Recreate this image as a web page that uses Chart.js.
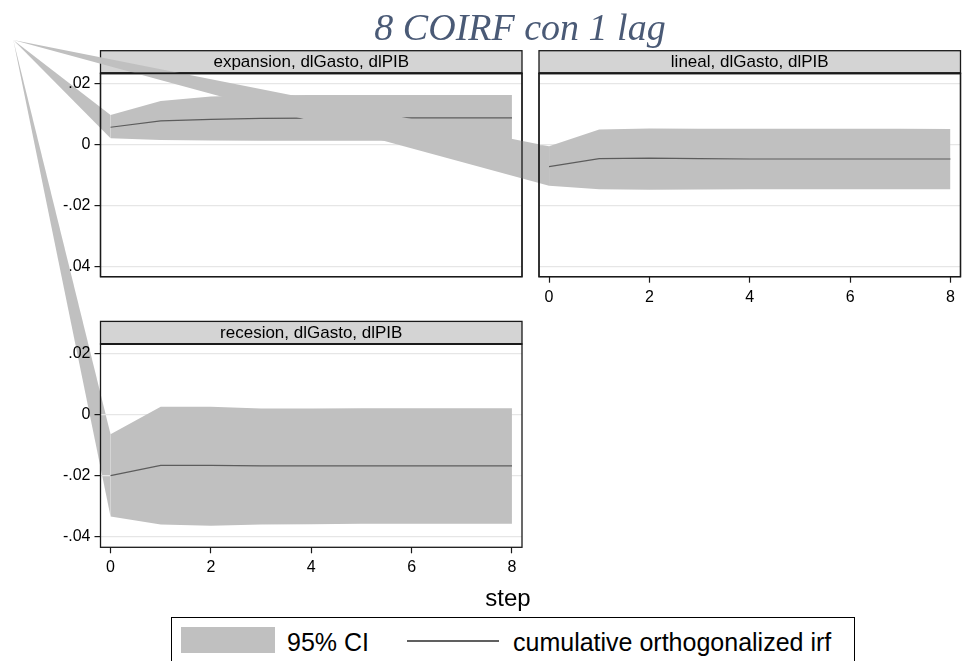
<!DOCTYPE html>
<html>
<head>
<meta charset="utf-8">
<script src="https://cdn.jsdelivr.net/npm/chart.js@4/dist/chart.umd.min.js"></script>
<style>
  html, body { margin: 0; padding: 0; background: #ffffff; }
  #wrap { position: relative; width: 962px; height: 661px; overflow: hidden; background: #fff; }
  #wrap canvas { position: absolute; left: 0; top: 0; }
  .txt { position: absolute; white-space: nowrap; }
  #title { left: 220px; width: 600px; top: 8px; text-align: center;
           font: italic 38px/38px "Liberation Serif", "Times New Roman", serif; color: #4a5a76; }
  #xtitle { left: 408px; width: 200px; top: 586px; text-align: center;
            font: 24px/24px "Liberation Sans", Arial, sans-serif; color: #000; }
  #legend { position: absolute; left: 171px; top: 617px; width: 684px; height: 60px;
            border: 1px solid #000; box-sizing: border-box; background: #fff; }
  #legend .sw { position: absolute; left: 9px; top: 9px; width: 94px; height: 26px; background: #c0c0c0; }
  #legend .ln { position: absolute; left: 235px; top: 22px; width: 92px; height: 2px; background: #606060; }
  #legend .lt { position: absolute; top: 12px; font: 25px/25px "Liberation Sans", Arial, sans-serif; color: #000; white-space: nowrap; }
</style>
</head>
<body>
<div id="wrap">
  <canvas id="cExp" width="962" height="661"></canvas>
  <canvas id="cLin" width="962" height="661"></canvas>
  <canvas id="cRec" width="962" height="661"></canvas>
  <div id="title" class="txt"></div>
  <div id="xtitle" class="txt"></div>
  <div id="legend">
    <div class="sw"></div>
    <div class="lt" id="lg1" style="left:115px"></div>
    <div class="ln"></div>
    <div class="lt" id="lg2" style="left:341px"></div>
  </div>
</div>
<script>
// ---------------- data ----------------
const chartTitle = '8 COIRF con 1 lag';
const xAxisTitle = 'step';
const legendLabels = ['95% CI', 'cumulative orthogonalized irf'];
const panelTitles = ['expansion, dlGasto, dlPIB', 'lineal, dlGasto, dlPIB', 'recesion, dlGasto, dlPIB'];
const steps = [0, 1, 2, 3, 4, 5, 6, 7, 8];
const xTickValues = [0, 2, 4, 6, 8];
const yTickValues = [0.02, 0, -0.02, -0.04];
const yTickLabels = ['.02', '0', '-.02', '-.04'];

const expUpper = [0.0096, 0.0142, 0.0157, 0.0161, 0.0162, 0.0162, 0.0162, 0.0162, 0.0162];
const expIrf   = [0.0056, 0.0077, 0.0082, 0.0085, 0.0086, 0.0087, 0.0087, 0.0087, 0.0087];
const expLower = [0.0020, 0.0014, 0.0013, 0.0012, 0.0012, 0.0012, 0.0012, 0.0012, 0.0013];

const linUpper = [-0.0006, 0.0049, 0.0052, 0.0051, 0.0051, 0.0051, 0.0051, 0.0051, 0.0050];
const linIrf   = [-0.0073, -0.0047, -0.0045, -0.0047, -0.0048, -0.0048, -0.0048, -0.0048, -0.0048];
const linLower = [-0.0136, -0.0147, -0.0149, -0.0148, -0.0147, -0.0147, -0.0147, -0.0147, -0.0147];

const recUpper = [-0.0063, 0.0027, 0.0027, 0.0021, 0.0021, 0.0022, 0.0022, 0.0022, 0.0022];
const recIrf   = [-0.0199, -0.0165, -0.0165, -0.0167, -0.0167, -0.0167, -0.0167, -0.0167, -0.0167];
const recLower = [-0.0333, -0.0359, -0.0363, -0.0359, -0.0358, -0.0357, -0.0357, -0.0357, -0.0357];

// ---------------- styling / layout ----------------
const W = 962, H = 661;
const BAND = '#c0c0c0';
const LINE = '#5c5c5c';
const STRIP = '#d4d4d4';
const GRID = '#e6e6e6';
const FONT = '"Liberation Sans", Arial, sans-serif';
const Y_MIN = -0.0434, Y_MAX = 0.0233, X_MIN = -0.2, X_MAX = 8.2;
const Y_AXIS_W = 45, X_AXIS_H = 32, STRIP_H = 22.6;
// stray polygon vertex of the original rendering (page pixels)
const ANCHOR = { x: 13.3, y: 40 };

const panels = [
  { id: 'cExp', title: panelTitles[0], up: expUpper, irf: expIrf, lo: expLower,
    rect: { left: 100.5, top: 73.3, right: 522, bottom: 276.7 }, yLabels: true, xLabels: false },
  { id: 'cLin', title: panelTitles[1], up: linUpper, irf: linIrf, lo: linLower,
    rect: { left: 539, top: 73.3, right: 960.5, bottom: 276.7 }, yLabels: false, xLabels: true },
  { id: 'cRec', title: panelTitles[2], up: recUpper, irf: recIrf, lo: recLower,
    rect: { left: 100.5, top: 344, right: 522, bottom: 547.3 }, yLabels: true, xLabels: true },
];

const charts = [];

function pts(arr) { return steps.map((s, i) => ({ x: s, y: arr[i] })); }

function drawFrame(ctx, a, title) {
  ctx.save();
  ctx.fillStyle = STRIP;
  ctx.fillRect(a.left, a.top - STRIP_H, a.right - a.left, STRIP_H);
  ctx.strokeStyle = '#1a1a1a';
  ctx.lineWidth = 1.3;
  ctx.strokeRect(a.left, a.top - STRIP_H, a.right - a.left, STRIP_H);
  ctx.fillStyle = '#000';
  ctx.font = '17px ' + FONT;
  ctx.textAlign = 'center';
  ctx.textBaseline = 'middle';
  ctx.fillText(title, (a.left + a.right) / 2, a.top - STRIP_H / 2 + 0.5);
  ctx.restore();
}
function drawBorder(ctx, a) {
  ctx.save();
  ctx.strokeStyle = '#1a1a1a';
  ctx.lineWidth = 1.3;
  ctx.strokeRect(a.left, a.top, a.right - a.left, a.bottom - a.top);
  ctx.beginPath();
  ctx.lineWidth = 1.8;
  ctx.moveTo(a.left, a.top); ctx.lineTo(a.right, a.top);
  ctx.stroke();
  ctx.restore();
}

const decor = {
  id: 'decor',
  beforeDraw(chart, args, o) {
    // stray wedge of the CI polygon towards the anchor vertex
    const { ctx } = chart;
    const x = chart.scales.x, y = chart.scales.y;
    const x0 = x.getPixelForValue(steps[0]);
    ctx.save();
    ctx.fillStyle = BAND;
    ctx.beginPath();
    ctx.moveTo(ANCHOR.x, ANCHOR.y);
    ctx.lineTo(x0, y.getPixelForValue(o.up[0]));
    ctx.lineTo(x0, y.getPixelForValue(o.lo[0]));
    ctx.closePath();
    ctx.fill();
    ctx.restore();
  },
  afterDraw(chart, args, o) {
    const ctx = chart.ctx;
    drawFrame(ctx, chart.chartArea, o.title);
    drawBorder(ctx, chart.chartArea);
    if (o.last) {
      charts.forEach(c => drawBorder(ctx, c.chartArea));
    }
  }
};

panels.forEach((p, idx) => {
  const r = p.rect;
  const cfg = {
    type: 'line',
    data: {
      datasets: [
        { label: 'lower', data: pts(p.lo), borderWidth: 0, borderColor: 'rgba(0,0,0,0)', pointRadius: 0, fill: false, tension: 0, order: 2 },
        { label: legendLabels[0], data: pts(p.up), borderWidth: 0, borderColor: 'rgba(0,0,0,0)', pointRadius: 0,
          fill: '-1', backgroundColor: BAND, tension: 0, order: 1 },
        { label: legendLabels[1], data: pts(p.irf), borderWidth: 1.2, borderColor: LINE, pointRadius: 0, fill: false, tension: 0, order: 0 },
      ]
    },
    options: {
      responsive: false,
      animation: false,
      devicePixelRatio: 1,
      events: [],
      layout: {
        padding: {
          left: r.left - (p.yLabels ? Y_AXIS_W : 0),
          right: W - r.right,
          top: r.top,
          bottom: H - r.bottom - (p.xLabels ? X_AXIS_H : 0),
        }
      },
      plugins: {
        legend: { display: false },
        tooltip: { enabled: false },
        title: { display: false },
        decor: { title: p.title, up: p.up, lo: p.lo, last: idx === panels.length - 1 },
      },
      scales: {
        x: {
          type: 'linear', min: X_MIN, max: X_MAX,
          display: p.xLabels,
          afterBuildTicks: s => { s.ticks = xTickValues.map(v => ({ value: v })); },
          afterFit: s => { s.height = p.xLabels ? X_AXIS_H : 0; },
          grid: { drawOnChartArea: false, drawTicks: true, tickLength: 6, tickColor: '#1a1a1a', tickWidth: 1.2 },
          border: { display: false },
          ticks: { color: '#000', font: { family: FONT, size: 16 }, padding: 5, maxRotation: 0, autoSkip: false,
                   callback: v => String(v) },
        },
        y: {
          type: 'linear', min: Y_MIN, max: Y_MAX,
          afterBuildTicks: s => { s.ticks = yTickValues.map(v => ({ value: v })); },
          afterFit: s => { s.width = p.yLabels ? Y_AXIS_W : 0; },
          grid: { color: GRID, lineWidth: 1.2, drawTicks: p.yLabels, tickLength: 6, tickColor: '#1a1a1a', tickWidth: 1.2 },
          border: { display: false },
          ticks: { display: p.yLabels, color: '#000', font: { family: FONT, size: 16 }, padding: 4, autoSkip: false,
                   callback: v => { const i = yTickValues.findIndex(t => Math.abs(t - v) < 1e-9); return i >= 0 ? yTickLabels[i] : ''; } },
        }
      }
    },
    plugins: [decor]
  };
  charts.push(new Chart(document.getElementById(p.id), cfg));
});

document.getElementById('title').textContent = chartTitle;
document.getElementById('xtitle').textContent = xAxisTitle;
document.getElementById('lg1').textContent = legendLabels[0];
document.getElementById('lg2').textContent = legendLabels[1];
</script>
</body>
</html>
